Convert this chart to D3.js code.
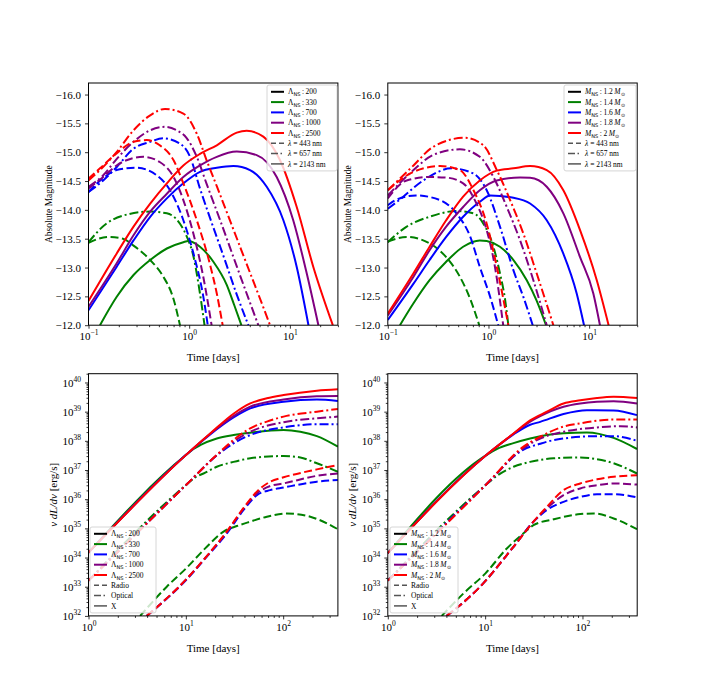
<!DOCTYPE html>
<html>
<head>
<meta charset="utf-8">
<script src="https://cdn.jsdelivr.net/npm/d3@7"></script>
<style>
  body { margin: 0; background: #fff; }
  svg { display: block; }
  text { font-family: "Liberation Serif", "Times New Roman", serif; fill: #000; }
</style>
</head>
<body>
<svg id="fig" width="708" height="692"></svg>
<script>
// ---- data ----
const LAMBDA_NS = ["200", "330", "700", "1000", "2500"];
const M_NS = ["1.2", "1.4", "1.6", "1.8", "2"];
const LINE_COLORS = ["black", "green", "blue", "purple", "red"];
const WAVELENGTHS = ["443", "657", "2143"];
const BANDS = ["Radio", "Optical", "X"];

const MAG_TICKS = [-16.0, -15.5, -15.0, -14.5, -14.0, -13.5, -13.0, -12.5, -12.0];
const DAY_TICKS_TOP = [0.1, 1, 10];
const DAY_TICKS_BOTTOM = [1, 10, 100];
const LUM_TICKS = [1e32, 1e33, 1e34, 1e35, 1e36, 1e37, 1e38, 1e39, 1e40];

// absolute magnitude vs time [days], varying Lambda_NS  (no Lambda=200 curve visible)
const magLam443 = {
  "330": [[0.1, -13.43], [0.157, -13.53], [0.22, -13.5], [0.28, -13.38], [0.41, -13.13], [0.55, -12.85], [0.7, -12.45], [0.81, -12.0]],
  "700": [[0.1, -14.31], [0.14, -14.55], [0.19, -14.69], [0.3, -14.73], [0.475, -14.6], [0.645, -14.34], [0.875, -13.82], [1.1, -13.25], [1.38, -12.5], [1.53, -12.0]],
  "1000": [[0.1, -14.37], [0.14, -14.57], [0.19, -14.77], [0.28, -14.9], [0.35, -14.92], [0.51, -14.83], [0.7, -14.57], [0.875, -14.17], [1.1, -13.59], [1.38, -12.84], [1.67, -12.0]],
  "2500": [[0.1, -14.54], [0.13, -14.72], [0.19, -14.98], [0.28, -15.18], [0.38, -15.21], [0.51, -15.12], [0.7, -14.86], [0.875, -14.46], [1.19, -13.82], [1.6, -13.07], [1.88, -12.55], [2.15, -12.0]]
};
const magLam657 = {
  "330": [[0.1, -13.44], [0.15, -13.76], [0.22, -13.9], [0.41, -13.97], [0.6, -13.94], [0.81, -13.76], [0.94, -13.55], [1.1, -13.2], [1.28, -12.55], [1.42, -12.0]],
  "700": [[0.1, -14.31], [0.14, -14.51], [0.19, -14.74], [0.28, -15.06], [0.41, -15.18], [0.55, -15.24], [0.81, -15.15], [1.02, -14.92], [1.28, -14.37], [1.61, -13.86], [2.19, -13.2], [2.97, -12.53], [3.87, -12.0]],
  "1000": [[0.1, -14.4], [0.14, -14.6], [0.19, -14.88], [0.28, -15.18], [0.41, -15.38], [0.575, -15.44], [0.75, -15.38], [0.94, -15.25], [1.19, -14.92], [1.49, -14.45], [2.03, -13.82], [2.97, -13.02], [4.02, -12.39], [4.86, -12.0]],
  "2500": [[0.1, -14.51], [0.13, -14.69], [0.19, -15.0], [0.28, -15.38], [0.41, -15.64], [0.575, -15.75], [0.875, -15.67], [1.19, -15.32], [1.49, -14.86], [1.88, -14.41], [2.75, -13.66], [4.02, -12.91], [5.45, -12.31], [6.35, -12.0]]
};
const magLam2143 = {
  "330": [[0.13, -12.0], [0.19, -12.49], [0.28, -12.87], [0.41, -13.13], [0.6, -13.33], [0.875, -13.44], [0.98, -13.46], [1.28, -13.36], [1.74, -13.1], [2.36, -12.7], [2.8, -12.35], [3.3, -12.0]],
  "700": [[0.1, -12.26], [0.19, -13.01], [0.28, -13.47], [0.41, -13.88], [0.6, -14.2], [0.875, -14.46], [1.28, -14.66], [1.88, -14.73], [2.75, -14.76], [4.02, -14.69], [5.89, -14.4], [8.62, -13.82], [11.7, -13.01], [15.3, -12.0]],
  "1000": [[0.1, -12.32], [0.19, -13.07], [0.28, -13.56], [0.41, -13.97], [0.6, -14.28], [0.875, -14.57], [1.28, -14.77], [1.88, -14.92], [2.97, -15.01], [4.68, -14.95], [7.4, -14.57], [10.8, -13.82], [14.7, -12.9], [19.2, -12.0]],
  "2500": [[0.1, -12.42], [0.19, -13.24], [0.28, -13.71], [0.41, -14.11], [0.6, -14.46], [0.875, -14.77], [1.28, -14.97], [1.88, -15.12], [2.97, -15.34], [3.73, -15.37], [5.45, -15.27], [7.99, -14.86], [11.7, -14.05], [17.1, -13.01], [26.7, -12.0]]
};

// absolute magnitude vs time [days], varying M_NS  (no 1.2 Msun curve visible)
const magMass443 = {
  "1.4": [[0.1, -13.45], [0.154, -13.53], [0.26, -13.42], [0.38, -13.18], [0.52, -12.84], [0.66, -12.45], [0.81, -12.0]],
  "1.6": [[0.1, -14.08], [0.12, -14.17], [0.19, -14.25], [0.33, -14.17], [0.48, -13.94], [0.66, -13.53], [0.82, -13.01], [1.04, -12.49], [1.25, -12.0]],
  "1.8": [[0.1, -14.2], [0.154, -14.51], [0.26, -14.57], [0.38, -14.56], [0.56, -14.46], [0.76, -14.11], [0.96, -13.65], [1.16, -13.01], [1.4, -12.0]],
  "2": [[0.1, -14.34], [0.18, -14.66], [0.33, -14.76], [0.52, -14.69], [0.71, -14.34], [0.96, -13.76], [1.21, -13.01], [1.575, -12.0]]
};
const magMass657 = {
  "1.4": [[0.1, -13.44], [0.154, -13.71], [0.26, -13.88], [0.48, -13.98], [0.71, -13.94], [0.89, -13.76], [1.12, -13.36], [1.3, -12.9], [1.46, -12.45], [1.575, -12.0]],
  "1.6": [[0.1, -14.02], [0.13, -14.17], [0.225, -14.51], [0.43, -14.72], [0.71, -14.63], [0.96, -14.34], [1.3, -13.71], [1.77, -12.95], [2.22, -12.49], [2.75, -12.0]],
  "1.8": [[0.1, -14.25], [0.18, -14.69], [0.28, -14.95], [0.52, -15.05], [0.82, -14.92], [1.12, -14.57], [1.52, -14.05], [2.06, -13.47], [2.79, -12.78], [3.79, -12.0]],
  "2": [[0.1, -14.34], [0.18, -14.77], [0.28, -15.09], [0.58, -15.25], [0.89, -15.12], [1.21, -14.69], [1.64, -14.17], [2.22, -13.59], [3.01, -12.9], [4.41, -12.0]]
};
const magMass2143 = {
  "1.4": [[0.132, -12.0], [0.18, -12.38], [0.26, -12.78], [0.38, -13.1], [0.56, -13.36], [0.82, -13.47], [0.96, -13.46], [1.3, -13.36], [1.77, -13.13], [2.4, -12.78], [3.0, -12.43], [3.73, -12.0]],
  "1.6": [[0.1, -12.09], [0.18, -12.72], [0.26, -13.13], [0.38, -13.53], [0.56, -13.88], [0.82, -14.14], [1.04, -14.25], [1.77, -14.21], [2.59, -14.11], [3.79, -13.82], [5.54, -13.24], [7.52, -12.55], [8.89, -12.0]],
  "1.8": [[0.1, -12.17], [0.18, -12.84], [0.26, -13.3], [0.38, -13.71], [0.56, -14.05], [0.82, -14.34], [1.21, -14.51], [2.06, -14.56], [2.59, -14.555], [3.79, -14.4], [5.54, -13.94], [8.12, -13.18], [11.0, -12.55], [12.8, -12.0]],
  "2": [[0.1, -12.2], [0.18, -12.9], [0.26, -13.36], [0.38, -13.82], [0.56, -14.23], [0.82, -14.51], [1.21, -14.68], [1.77, -14.72], [2.59, -14.76], [3.79, -14.69], [5.54, -14.34], [8.12, -13.65], [11.9, -12.78], [15.6, -12.0]]
};

// nu dL/dnu [erg/s] vs time [days], varying Lambda_NS
const lumLamRadio = {
  "330": [[3.39, 1e32], [6.37, 1e33], [10.07, 4.27e33], [16.43, 2.34e34], [24.4, 7.76e34], [33.4, 1.2e35], [45.9, 1.7e35], [68, 2.51e35], [109, 3.24e35], [190, 2.51e35], [282, 1.48e35], [365, 9.33e34]],
  "700": [[3.97, 1e32], [10.07, 1.7e33], [16.43, 1.07e34], [26.4, 6.76e34], [39.2, 4.27e35], [53.7, 1.38e36], [73.6, 2.04e36], [101, 2.51e36], [222, 3.98e36], [365, 4.57e36]],
  "1000": [[3.97, 1e32], [10.07, 1.78e33], [16.43, 1.12e34], [26.4, 7.41e34], [39.2, 4.79e35], [53.7, 1.58e36], [73.6, 2.82e36], [101, 3.47e36], [222, 6.31e36], [365, 7.59e36]],
  "2500": [[3.97, 1e32], [10.07, 1.78e33], [16.43, 1.12e34], [26.4, 7.94e34], [39.2, 5.01e35], [53.7, 1.82e36], [73.6, 3.98e36], [101, 5.62e36], [222, 1.05e37], [365, 1.48e37]]
};
const lumLamOptical = {
  "330": [[1, 1.62e33], [10, 3.02e36], [12.5, 5.62e36], [15.2, 7.59e36], [20.8, 1.29e37], [30.9, 1.9e37], [45.9, 2.51e37], [101, 3.02e37], [150, 2.69e37], [222, 1.7e37], [365, 8.71e36]],
  "700": [[1, 1.62e33], [10, 3.02e36], [20.8, 3.16e37], [33.4, 9.55e37], [45.9, 1.58e38], [101, 2.88e38], [222, 3.72e38], [365, 3.72e38]],
  "1000": [[1, 1.62e33], [10, 3.02e36], [20.8, 3.24e37], [33.4, 1.12e38], [45.9, 2.04e38], [101, 4.37e38], [222, 5.89e38], [365, 6.76e38]],
  "2500": [[1, 1.62e33], [10, 3.02e36], [20.8, 3.31e37], [33.4, 1.32e38], [45.9, 2.69e38], [68, 4.57e38], [101, 6.76e38], [222, 1e39], [365, 1.23e39]]
};
const lumLamX = {
  "330": [[1, 1.48e34], [10, 3.24e37], [12, 5.25e37], [14.03, 7.08e37], [20.8, 1.2e38], [30.9, 1.58e38], [45.9, 1.9e38], [101, 2.34e38], [150, 2.04e38], [222, 1.45e38], [365, 6.31e37]],
  "700": [[1, 1.48e34], [10, 3.24e37], [17.8, 1.66e38], [30.9, 6.31e38], [45.9, 1.29e39], [101, 2.19e39], [222, 2.63e39], [365, 2.34e39]],
  "1000": [[1, 1.48e34], [10, 3.24e37], [17.8, 1.74e38], [30.9, 7.08e38], [45.9, 1.48e39], [101, 2.63e39], [222, 3.39e39], [365, 3.47e39]],
  "2500": [[1, 1.48e34], [10, 3.24e37], [17.8, 1.78e38], [30.9, 8.51e38], [45.9, 1.91e39], [68, 2.88e39], [101, 3.72e39], [222, 5.25e39], [365, 5.89e39]]
};

// nu dL/dnu [erg/s] vs time [days], varying M_NS
const lumMassRadio = {
  "1.4": [[3.58, 1e32], [5.99, 5.89e32], [10.08, 2.88e33], [16.7, 2.04e34], [24.8, 6.76e34], [31.4, 1.29e35], [50.5, 2.04e35], [94.9, 3.09e35], [130, 3.24e35], [209, 2.19e35], [363, 9.33e34]],
  "1.6": [[4.03, 1e32], [8.88, 1e33], [19.56, 2.34e34], [31.4, 1.7e35], [43.1, 4.27e35], [63.9, 8.13e35], [94.9, 1.2e36], [141, 1.48e36], [209, 1.48e36], [363, 1.15e36]],
  "1.8": [[4.03, 1e32], [8.88, 1e33], [19.56, 2.34e34], [31.4, 1.7e35], [43.1, 4.9e35], [63.9, 1.38e36], [94.9, 2.34e36], [141, 3.02e36], [209, 3.47e36], [363, 3.16e36]],
  "2": [[4.03, 1e32], [8.88, 1e33], [19.56, 2.34e34], [31.4, 1.7e35], [43.1, 5.5e35], [63.9, 2.04e36], [94.9, 3.47e36], [141, 4.79e36], [209, 5.89e36], [363, 6.61e36]]
};
const lumMassOptical = {
  "1.4": [[1, 1.62e33], [10.08, 3.02e36], [13.18, 6.31e36], [19.56, 1.29e37], [29, 1.9e37], [50.5, 2.51e37], [94.9, 2.69e37], [141, 2.34e37], [209, 1.7e37], [363, 7.59e36]],
  "1.6": [[1, 1.62e33], [10.08, 3.02e36], [24.8, 5.01e37], [36.8, 7.94e37], [43.1, 9.33e37], [63.9, 1.2e38], [141, 1.45e38], [209, 1.45e38], [363, 1e38]],
  "1.8": [[1, 1.62e33], [10.08, 3.02e36], [24.8, 5.62e37], [36.8, 1.2e38], [63.9, 2.04e38], [141, 2.88e38], [245, 3.16e38], [363, 2.88e38]],
  "2": [[1, 1.62e33], [10.08, 3.02e36], [24.8, 6.31e37], [36.8, 1.38e38], [63.9, 3.09e38], [94.9, 3.98e38], [141, 4.9e38], [209, 5.37e38], [363, 5.37e38]]
};
const lumMassX = {
  "1.4": [[1, 1.41e34], [10.08, 3.09e37], [13.18, 5.25e37], [19.56, 8.32e37], [29, 1.2e38], [43.1, 1.58e38], [63.9, 1.82e38], [111, 1.95e38], [209, 1.26e38], [363, 5.25e37]],
  "1.6": [[1, 1.41e34], [10.08, 3.09e37], [19.56, 1.66e38], [29, 3.55e38], [36.8, 4.47e38], [63.9, 8.32e38], [111, 1.12e39], [209, 1.1e39], [363, 7.59e38]],
  "1.8": [[1, 1.41e34], [10.08, 3.09e37], [19.56, 1.74e38], [29, 4.57e38], [36.8, 7.08e38], [63.9, 1.48e39], [94.9, 1.91e39], [141, 2.19e39], [209, 2.29e39], [363, 1.91e39]],
  "2": [[1, 1.41e34], [10.08, 3.09e37], [19.56, 1.78e38], [29, 5.01e38], [43.1, 1e39], [63.9, 1.91e39], [94.9, 2.45e39], [141, 2.95e39], [209, 3.24e39], [363, 2.95e39]]
};

// ---- drawing ----
const svg = d3.select("#fig");
const SERIF = "'Liberation Serif', 'Times New Roman', serif";
const DASH = { dashed: "8,3.5", dashdot: "9,3,2,3", solid: null };
const LEGEND_DASH = { dashed: "5,3", dashdot: "7,2.5,1.5,2.5", solid: null };

const PANELS = [
  { id: "tl", box: { left: 88.5, top: 83, width: 249.4, height: 242.2 }, xDomain: [0.1, 30], yDomain: [-12, -16.2], logY: false,
    xTicks: DAY_TICKS_TOP, yTicks: MAG_TICKS, labels: LAMBDA_NS, kind: "lam",
    series: [{ data: magLam443, style: "dashed" }, { data: magLam657, style: "dashdot" }, { data: magLam2143, style: "solid" }],
    legend: { x: 267, y: 85, w: 70, styles: WAVELENGTHS }, ylabelX: 52 },
  { id: "tr", box: { left: 387.8, top: 83, width: 249.4, height: 242.2 }, xDomain: [0.1, 30], yDomain: [-12, -16.2], logY: false,
    xTicks: DAY_TICKS_TOP, yTicks: MAG_TICKS, labels: M_NS, kind: "mass",
    series: [{ data: magMass443, style: "dashed" }, { data: magMass657, style: "dashdot" }, { data: magMass2143, style: "solid" }],
    legend: { x: 564, y: 85, w: 72, styles: WAVELENGTHS }, ylabelX: 351 },
  { id: "bl", box: { left: 88.5, top: 373.7, width: 249.4, height: 242.2 }, xDomain: [1, 365], yDomain: [1e32, 2e40], logY: true,
    xTicks: DAY_TICKS_BOTTOM, yTicks: LUM_TICKS, labels: LAMBDA_NS, kind: "lam",
    series: [{ data: lumLamRadio, style: "dashed" }, { data: lumLamOptical, style: "dashdot" }, { data: lumLamX, style: "solid" }],
    legend: { x: 90, y: 527, w: 66, styles: BANDS }, ylabelX: 57 },
  { id: "br", box: { left: 387.8, top: 373.7, width: 249.4, height: 242.2 }, xDomain: [1, 365], yDomain: [1e32, 2e40], logY: true,
    xTicks: DAY_TICKS_BOTTOM, yTicks: LUM_TICKS, labels: M_NS, kind: "mass",
    series: [{ data: lumMassRadio, style: "dashed" }, { data: lumMassOptical, style: "dashdot" }, { data: lumMassX, style: "solid" }],
    legend: { x: 390, y: 527, w: 68, styles: BANDS }, ylabelX: 356 }
];

function minorLogTicks(domain) {
  const out = [];
  for (let k = Math.floor(Math.log10(domain[0])); k <= Math.ceil(Math.log10(domain[1])); k++) {
    for (let m = 2; m <= 9; m++) {
      const v = m * Math.pow(10, k);
      if (v >= domain[0] && v <= domain[1]) out.push(v);
    }
  }
  return out;
}

function powerLabel(sel, v) {
  const e = Math.round(Math.log10(v));
  sel.text(null);
  sel.append("tspan").text("10");
  sel.append("tspan").attr("dy", -5).attr("font-size", 7.5).text(String(e).replace("-", "\u2212"));
}

function richText(sel, parts, size) {
  let off = 0;
  parts.forEach(p => {
    const target = p.sub ? 2 : 0;
    const ts = sel.append("tspan").attr("dy", target - off).text(p.t);
    off = target;
    if (p.sub) ts.attr("font-size", size * 0.68);
    if (p.it) ts.attr("font-style", "italic");
    if (p.sans) ts.attr("font-family", "'DejaVu Sans', sans-serif");
  });
}

function colourParts(kind, v) {
  if (kind === "lam") return [{ t: "\u039B" }, { t: "NS", sub: true, sans: true }, { t: "\u2009:\u2009" + v }];
  return [{ t: "M", it: true }, { t: "NS", sub: true, sans: true }, { t: "\u2009:\u2009" + v + "\u2009" }, { t: "M", it: true }, { t: "\u2299", sub: true }];
}

function styleParts(s) {
  if (WAVELENGTHS.includes(s)) return [{ t: "\u03BB", it: true }, { t: " = " + s + " " }, { t: "nm" }];
  return [{ t: s }];
}

function drawPanel(p) {
  const { left, top, width, height } = p.box;
  const x = d3.scaleLog().domain(p.xDomain).range([left, left + width]);
  const y = p.logY
    ? d3.scaleLog().domain(p.yDomain).range([top + height, top])
    : d3.scaleLinear().domain(p.yDomain).range([top + height, top]);

  const clipId = "clip-" + p.id;
  svg.append("clipPath").attr("id", clipId)
    .append("rect").attr("x", left).attr("y", top).attr("width", width).attr("height", height);

  // x axis: minor then major
  svg.append("g").attr("transform", `translate(0,${top + height})`)
    .call(d3.axisBottom(x).tickValues(minorLogTicks(p.xDomain)).tickSize(2).tickFormat(""))
    .call(g => g.select(".domain").remove());
  const xa = svg.append("g").attr("transform", `translate(0,${top + height})`)
    .call(d3.axisBottom(x).tickValues(p.xTicks).tickSize(3.5).tickPadding(4).tickFormat(""));
  xa.select(".domain").remove();
  xa.attr("font-family", SERIF).attr("font-size", 11);
  xa.selectAll(".tick text").each(function (d) { powerLabel(d3.select(this), d); });

  // y axis
  if (p.logY) {
    svg.append("g").attr("transform", `translate(${left},0)`)
      .call(d3.axisLeft(y).tickValues(minorLogTicks(p.yDomain)).tickSize(2).tickFormat(""))
      .call(g => g.select(".domain").remove());
  }
  const ya = svg.append("g").attr("transform", `translate(${left},0)`)
    .call(d3.axisLeft(y).tickValues(p.yTicks).tickSize(3.5).tickPadding(4)
      .tickFormat(p.logY ? "" : d => d3.format(".1f")(d).replace("-", "\u2212")));
  ya.select(".domain").remove();
  ya.attr("font-family", SERIF).attr("font-size", 11);
  if (p.logY) ya.selectAll(".tick text").each(function (d) { powerLabel(d3.select(this), d); });
  svg.selectAll(".tick line").attr("stroke", "#000").attr("stroke-width", 0.8);

  // curves
  const line = d3.line().x(d => x(d[0])).y(d => y(d[1])).curve(d3.curveMonotoneX);
  const lg = svg.append("g").attr("clip-path", `url(#${clipId})`);
  p.labels.forEach((lab, i) => {
    p.series.forEach(s => {
      const pts = s.data[lab];
      if (!pts) return;
      lg.append("path")
        .attr("d", line(pts))
        .attr("fill", "none")
        .attr("stroke", LINE_COLORS[i])
        .attr("stroke-width", 2)
        .attr("stroke-dasharray", DASH[s.style]);
    });
  });

  // frame
  svg.append("rect").attr("x", left).attr("y", top).attr("width", width).attr("height", height)
    .attr("fill", "none").attr("stroke", "#000").attr("stroke-width", 1);

  // axis labels
  svg.append("text").attr("x", left + width / 2).attr("y", top + height + 36)
    .attr("text-anchor", "middle").attr("font-size", 11).text("Time [days]");
  const yl = svg.append("text")
    .attr("transform", `translate(${p.ylabelX},${top + height / 2}) rotate(-90)`)
    .attr("text-anchor", "middle");
  if (p.logY) {
    yl.attr("font-size", 11);
    yl.append("tspan").attr("font-style", "italic").text("\u03BD dL/d\u03BD");
    yl.append("tspan").text(" [erg/s]");
  } else {
    yl.attr("font-size", 9.5).text("Absolute Magnitude");
  }

  // legend
  const L = p.legend, step = 10.3, fs = 7.5;
  const rows = p.labels.map((lab, i) => ({ colour: LINE_COLORS[i], parts: colourParts(p.kind, lab), dash: null, w: 2 }))
    .concat(L.styles.map((s, j) => ({ colour: "#555", parts: styleParts(s), dash: LEGEND_DASH[["dashed", "dashdot", "solid"][j]], w: 1.5 })));
  const h = rows.length * step + 3.5;
  const leg = svg.append("g");
  leg.append("rect").attr("x", L.x).attr("y", L.y).attr("width", L.w).attr("height", h).attr("rx", 2)
    .attr("fill", "#fff").attr("fill-opacity", 0.8).attr("stroke", "#ccc").attr("stroke-width", 0.8);
  rows.forEach((r, k) => {
    const cy = L.y + 6.8 + k * step;
    leg.append("line").attr("x1", L.x + 4).attr("x2", L.x + 17).attr("y1", cy).attr("y2", cy)
      .attr("stroke", r.colour).attr("stroke-width", r.w).attr("stroke-dasharray", r.dash);
    const t = leg.append("text").attr("x", L.x + 21).attr("y", cy + 2.6).attr("font-size", fs);
    richText(t, r.parts, fs);
  });
}

PANELS.forEach(drawPanel);
</script>
</body>
</html>
